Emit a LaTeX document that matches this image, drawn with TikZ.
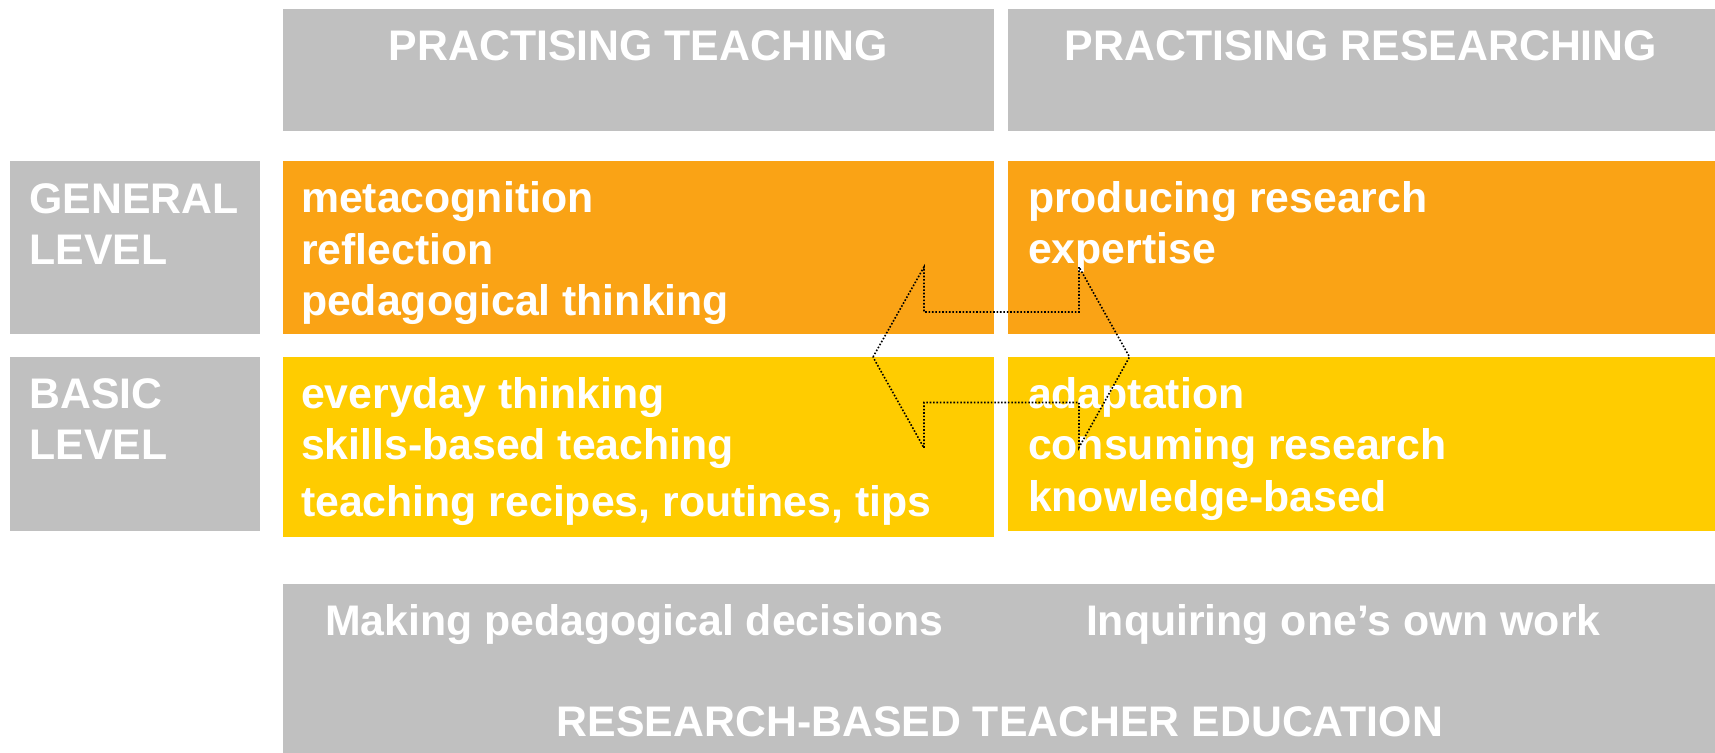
\documentclass[tikz,border=0pt]{standalone}
\usepackage{fontspec}
\setmainfont{Liberation Sans}
\definecolor{boxgrey}{HTML}{C0C0C0}
\definecolor{genorange}{HTML}{FAA315}
\definecolor{basyellow}{HTML}{FFCC00}
\tikzset{
	label txt/.style={text=white, inner sep=0pt, outer sep=0pt, anchor=base west,
		font=\fontsize{21.4}{25.85}\selectfont\bfseries},
	head txt/.style={label txt, anchor=base},
	link/.style={black, line width=0.8pt, dash pattern=on 0.8pt off 0.9pt}
}
\begin{document}
\begin{tikzpicture}[x=0.5pt,y=0.5pt]
		\useasboundingbox (0,0) rectangle (1715,-753);
		\fill [boxgrey] (283,-9) rectangle (994,-131.5);
		\fill [boxgrey] (1007.5,-9) rectangle (1715,-131.5);
		\fill [boxgrey] (10,-161) rectangle (260,-334);
		\fill [genorange] (283,-161) rectangle (994,-334);
		\fill [genorange] (1007.5,-161) rectangle (1715,-334);
		\fill [boxgrey] (10,-356.7) rectangle (260,-530.7);
		\fill [basyellow] (283,-356.7) rectangle (994,-537);
		\fill [basyellow] (1007.5,-356.7) rectangle (1715,-530.7);
		\fill [boxgrey] (283,-584) rectangle (1715,-753);
		\node [head txt] (hdrTeach) at (638.5,-61) {PRACTISING TEACHING};
		\node [head txt] (hdrResearch) at (1361,-61) {PRACTISING RESEARCHING};
		\node [label txt] (genLvlA) at (29.5,-213.3) {GENERAL};
		\node [label txt] (genLvlB) at (29.5,-265) {LEVEL};
		\node [label txt] (genTeachA) at (301,-212.3) {metacognition};
		\node [label txt] (genTeachB) at (301,-264.3) {reflection};
		\node [label txt] (genTeachC) at (301,-315.7) {pedagogical thinking};
		\node [label txt] (genResA) at (1028,-212.3) {producing research};
		\node [label txt] (genResB) at (1028,-263.3) {expertise};
		\node [label txt] (basLvlA) at (29.5,-409) {BASIC};
		\node [label txt] (basLvlB) at (29.5,-460) {LEVEL};
		\node [label txt] (basTeachA) at (301,-409) {everyday thinking};
		\node [label txt] (basTeachB) at (301,-460) {skills-based teaching};
		\node [label txt] (basTeachC) at (301,-516.7) {teaching recipes, routines, tips};
		\node [label txt] (basResA) at (1028,-409) {adaptation};
		\node [label txt] (basResB) at (1028,-460) {consuming research};
		\node [label txt] (basResC) at (1028,-511.7) {knowledge-based};
		\node [label txt] (baseTeach) at (325,-636) {Making pedagogical decisions};
		\node [label txt] (baseRes) at (1086,-636) {Inquiring one’s own work};
		\node [head txt] (baseTitle) at (1000,-736.7) {RESEARCH-BASED TEACHER EDUCATION};
		\draw [link] (873,-357) -- (924,-267) -- (924,-312) -- (1079,-312) -- (1079,-267)
			-- (1129.5,-357) -- (1079,-447.5) -- (1079,-402.5) -- (924,-402.5) -- (924,-448) -- cycle;
	\end{tikzpicture}
\end{document}
